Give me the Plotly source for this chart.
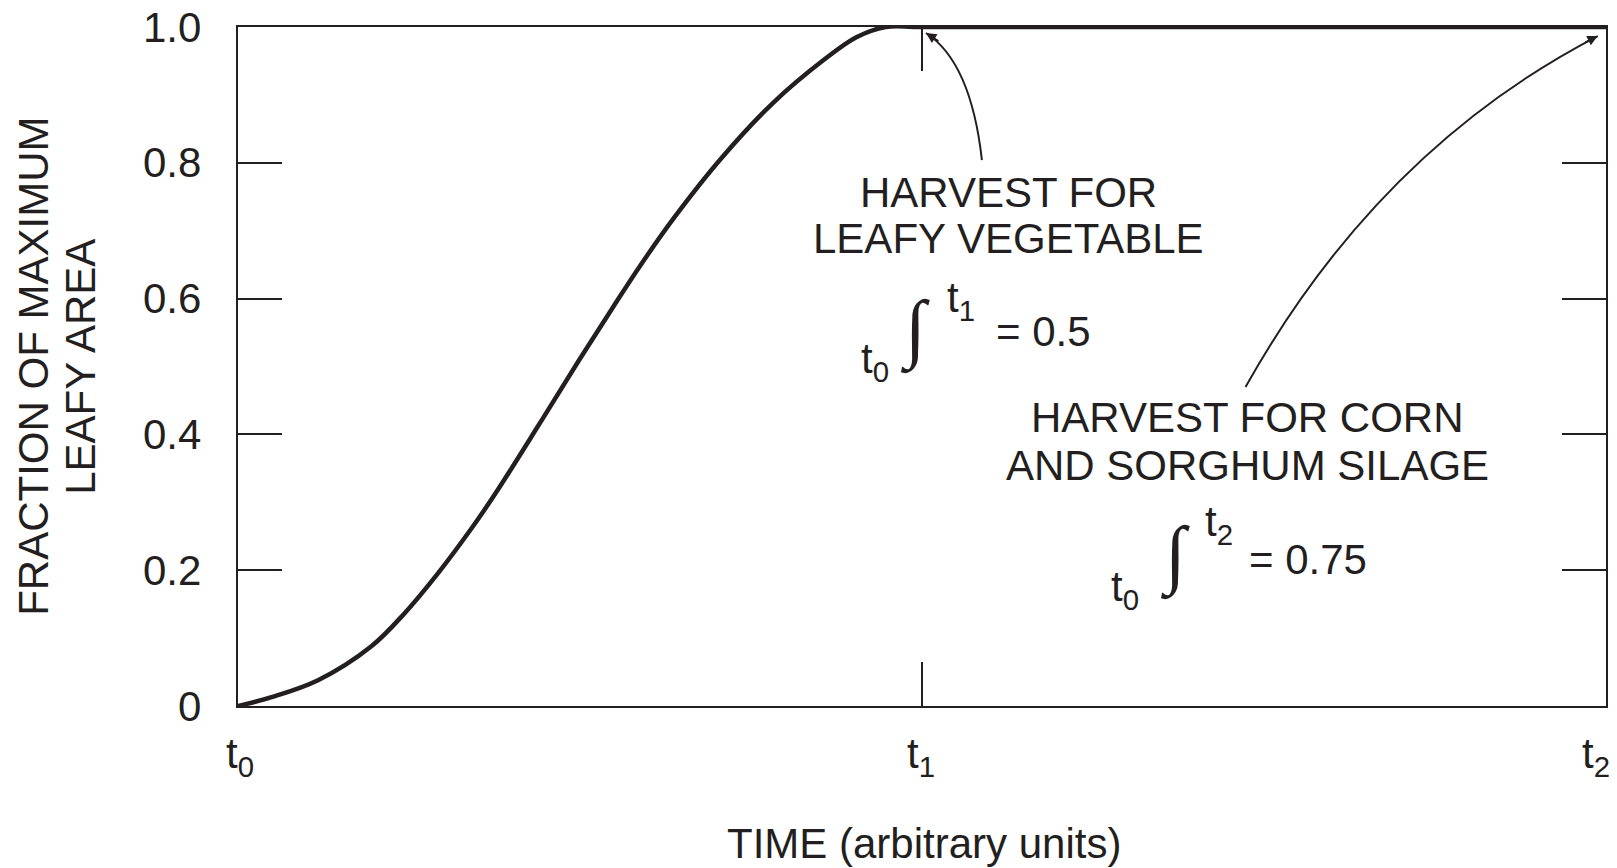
import plotly.graph_objects as go

# leaf area curve (time in units of t1)
time = [0, 0.049, 0.117, 0.195, 0.243, 0.292, 0.341, 0.377, 0.441, 0.499,
        0.548, 0.587, 0.636, 0.706, 0.782, 0.857, 0.904, 0.947, 1.0, 2.0]
frac = [0, 0.013, 0.038, 0.088, 0.136, 0.195, 0.261, 0.314, 0.416, 0.510,
        0.587, 0.647, 0.717, 0.806, 0.888, 0.952, 0.985, 1.0, 1.0, 1.0]

x_ticks = [0, 1, 2]
x_ticktext = ["t<sub>0</sub>", "t<sub>1</sub>", "t<sub>2</sub>"]
y_ticks = [0, 0.2, 0.4, 0.6, 0.8, 1.0]
y_ticktext = ["0", "0.2", "0.4", "0.6", "0.8", "1.0"]

INK = "#231f20"
FONT = "Liberation Sans, Arial, sans-serif"
SERIF = "Liberation Serif, Times New Roman, serif"
FS = 42

fig = go.Figure()

fig.add_trace(
    go.Scatter(
        x=time,
        y=frac,
        mode="lines",
        line=dict(color=INK, width=4.5, shape="spline"),
        cliponaxis=False,
        hoverinfo="skip",
        showlegend=False
    )
)

# curved leader arrows (quadratic paths) + arrowheads
fig.add_shape(type="path", path="M 1.0876 0.8041 Q 1.0715 0.9485 1.0058 0.9912",
              xref="x", yref="y", line=dict(color=INK, width=2))
fig.add_shape(type="path", path="M 1.473 0.4698 Q 1.667 0.8189 1.988 0.9867",
              xref="x", yref="y", line=dict(color=INK, width=2))

arrowheads = [
    dict(x=1.0058, y=0.9912, ax=14, ay=9),
    dict(x=1.988, y=0.9867, ax=-14, ay=7),
]
for a in arrowheads:
    fig.add_annotation(x=a["x"], y=a["y"], ax=a["ax"], ay=a["ay"], text="",
                       showarrow=True, arrowhead=2, arrowsize=1.3, arrowwidth=1.6,
                       arrowcolor=INK, standoff=0)

def label(text, x, y, size=FS, family=FONT, xref="x", yref="y", angle=0,
          style="normal", xanchor="center"):
    fig.add_annotation(x=x, y=y, xref=xref, yref=yref, text=text, showarrow=False,
                       xanchor=xanchor, yanchor="middle", textangle=angle,
                       font=dict(family=family, size=size, color=INK, style=style))

label("HARVEST FOR", 1.127, 0.757)
label("LEAFY VEGETABLE", 1.127, 0.6885)
label("t<sub>0</sub>", 0.932, 0.507)
label("∫", 0.9912, 0.555, size=76, family=SERIF, style="italic")
label("t<sub>1</sub>", 1.0569, 0.597)
label("= 0.5", 1.1781, 0.551)

label("HARVEST FOR CORN", 1.4759, 0.4247)
label("AND SORGHUM SILAGE", 1.4759, 0.3535)
label("t<sub>0</sub>", 1.2963, 0.171)
label("∫", 1.3700, 0.222, size=76, family=SERIF, style="italic")
label("t<sub>2</sub>", 1.4336, 0.267)
label("= 0.75", 1.5650, 0.216)

# tick labels drawn as annotations (t2 sits left of the corner in the original)
x_label_pos = [0.003, 0.9985, 1.985]
for xv, tt in zip(x_label_pos, x_ticktext):
    label(tt, xv, -0.0751, yref="paper")
for yv, tt in zip(y_ticks, y_ticktext):
    label(tt, -0.0256, yv, xref="paper", xanchor="right")

# axis titles
label("FRACTION OF MAXIMUM", -0.1496, 0.5, xref="paper", yref="paper", angle=-90)
label("LEAFY AREA", -0.1153, 0.5, xref="paper", yref="paper", angle=-90)
label("TIME (arbitrary units)", 0.5015, -0.2018, xref="paper", yref="paper")

axis_style = dict(
    ticks="inside",
    ticklen=44,
    tickwidth=2,
    tickcolor=INK,
    showline=True,
    linewidth=2,
    linecolor=INK,
    mirror="ticks",
    showgrid=False,
    zeroline=False,
    showticklabels=False
)
fig.update_xaxes(range=[0, 2], tickvals=x_ticks, **axis_style)
fig.update_yaxes(range=[0, 1], tickvals=y_ticks, **axis_style)

# page body adds an 8px margin, so the figure is 8px smaller and margins shifted
fig.update_layout(
    width=1609,
    height=860,
    margin=dict(l=230, r=9, t=19, b=162),
    paper_bgcolor="white",
    plot_bgcolor="white",
    showlegend=False
)

fig.write_html("out.html")
